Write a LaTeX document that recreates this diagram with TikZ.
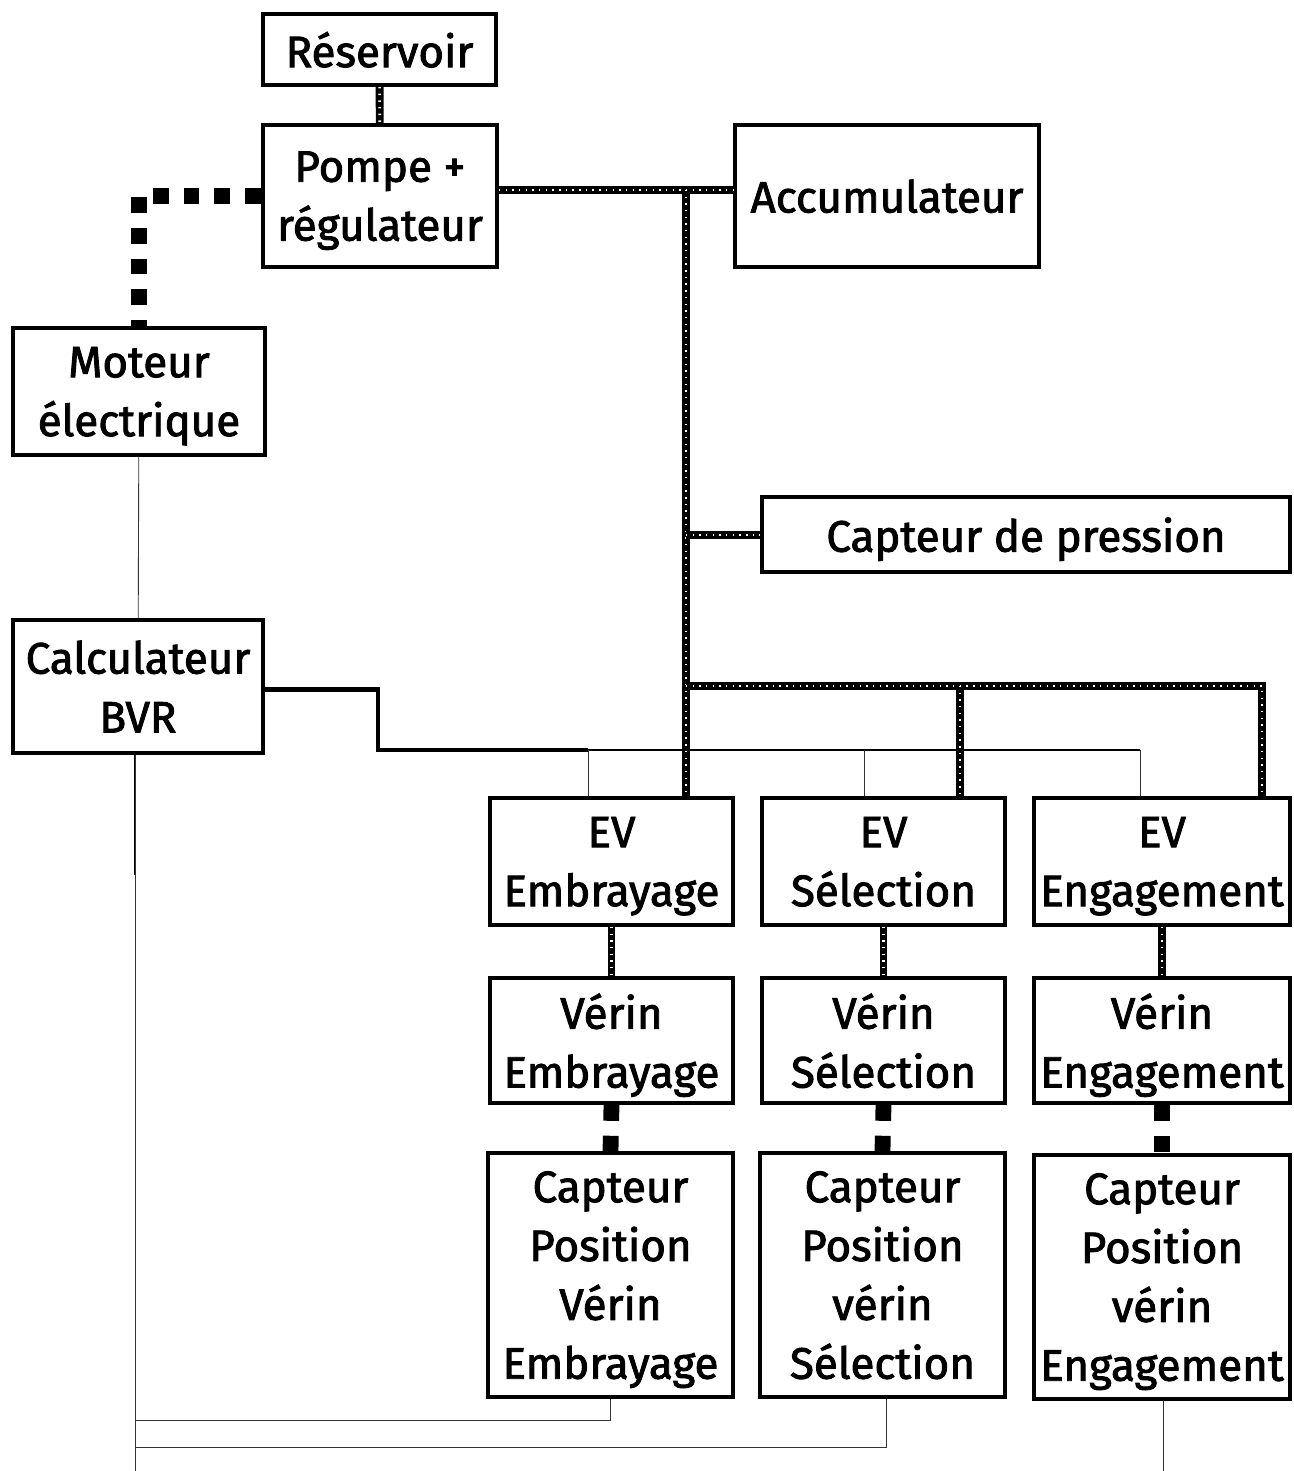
\documentclass[tikz,border=0pt]{standalone}
\usepackage{fontspec}
\setmainfont{Fira Sans}
\newfontfamily\blocfont{Fira Sans}[FakeBold=2]
\usetikzlibrary{positioning}
\tikzset{
  bloc/.style={draw=black, line width=2.3pt, align=center, inner sep=0pt,
    font=\blocfont\fontsize{25}{33.5}\selectfont, text depth=0pt,
    execute at begin node=\rule{0pt}{18.5pt}},
  hydro/.style={line width=4.5pt, draw=black,
    postaction={draw=white, line width=1.5pt, dash pattern=on 0.8pt off 3pt}},
  meca/.style={line width=9pt, draw=black, dash pattern=on 9pt off 8.5pt},
  sigfort/.style={line width=2.6pt, draw=black},
  sigmoy/.style={line width=1.2pt, draw=black},
  sigfin/.style={line width=0.5pt, draw=black!80}
}
\begin{document}
\begin{tikzpicture}[x=0.02cm, y=-0.02cm]
  \clip (0,0) rectangle (1294,1471);
  % --- blocs ---
  \node[bloc, minimum width=233*0.02cm, minimum height=71*0.02cm] (res) at (379.5,49.5) {Réservoir};
  \node[bloc, minimum width=234*0.02cm, minimum height=142*0.02cm] (pompe) at (380,196) {Pompe +\\régulateur};
  \node[bloc, minimum width=304*0.02cm, minimum height=142*0.02cm] (accu) at (887,196) {Accumulateur};
  \node[bloc, minimum width=252*0.02cm, minimum height=127*0.02cm] (moteur) at (139,391.5) {Moteur\\électrique};
  \node[bloc, minimum width=528*0.02cm, minimum height=75*0.02cm] (cpress) at (1026,534.5) {Capteur de pression};
  \node[bloc, minimum width=250*0.02cm, minimum height=133*0.02cm] (calc) at (138,686.5) {Calculateur\\BVR};
  % --- electrovannes ---
  \node[bloc, minimum width=243*0.02cm, minimum height=127*0.02cm] (ev1) at (611.5,861.5) {EV\\Embrayage};
  \node[bloc, minimum width=243*0.02cm, minimum height=127*0.02cm] (ev2) at (883.5,861.5) {EV\\Sélection};
  \node[bloc, minimum width=256*0.02cm, minimum height=127*0.02cm] (ev3) at (1162,861.5) {EV\\Engagement};
  % --- verins ---
  \node[bloc, minimum width=243*0.02cm, minimum height=125*0.02cm] (ve1) at (611.5,1040.5) {Vérin\\Embrayage};
  \node[bloc, minimum width=243*0.02cm, minimum height=125*0.02cm] (ve2) at (883.5,1040.5) {Vérin\\Sélection};
  \node[bloc, minimum width=256*0.02cm, minimum height=125*0.02cm] (ve3) at (1162,1040.5) {Vérin\\Engagement};
  % --- capteurs de position ---
  \node[bloc, minimum width=245*0.02cm, minimum height=244*0.02cm] (cp1) at (610.5,1275) {Capteur\\Position\\Vérin\\Embrayage};
  \node[bloc, minimum width=245*0.02cm, minimum height=244*0.02cm] (cp2) at (882.5,1275) {Capteur\\Position\\vérin\\Sélection};
  \node[bloc, minimum width=256*0.02cm, minimum height=244*0.02cm] (cp3) at (1162,1277) {Capteur\\Position\\vérin\\Engagement};
  % --- circuit hydraulique ---
  \coordinate (hA) at (686,190);
  \coordinate (hB) at (686,535);
  \coordinate (hC) at (686,686);
  \coordinate (hD) at (960,686);
  \coordinate (hE) at (1262,686);
  \draw[hydro] (res) -- (pompe);
  \draw[hydro] (pompe.east |- hA) -- (accu.west |- hA);
  \draw[hydro] (hA) -- (hA |- ev1.north);
  \draw[hydro] (hB) -- (cpress.west |- hB);
  \draw[hydro] (hC) -- (hE) -- (hE |- ev3.north);
  \draw[hydro] (hD) -- (hD |- ev2.north);
  \foreach \i in {1,2,3}
    \draw[hydro] (ev\i) -- (ve\i);
  % --- liaisons mecaniques ---
  \draw[meca] (pompe.west) -| (moteur.north);
  \foreach \i in {1,2,3}
    \draw[meca] (ve\i.south) -- (cp\i.north);
  % --- liaisons electriques ---
  \coordinate (eA) at (378,750);
  \coordinate (e1) at (588,750);
  \coordinate (e2) at (864,750);
  \coordinate (e3) at (1140,750);
  \draw[sigfin] (moteur) -- (calc);
  \draw[sigfort] ([yshift=-3*0.02cm]calc.east) -| (eA) -- (e1);
  \draw[sigmoy] (e1) -- (e3);
  \foreach \i in {1,2,3}
    \draw[sigfin] (e\i) -- (e\i |- ev\i.north);
  \coordinate (b1) at (610,1420);
  \coordinate (b2) at (886,1447);
  \coordinate (b3) at (1163,1480);
  \draw[sigmoy] ([xshift=-3*0.02cm]calc.south) -- ++(0,120);
  \draw[sigfin] ([xshift=-3*0.02cm]calc.south) |- (b1) -- (b1 |- cp1.south);
  \draw[sigfin] ([xshift=-3*0.02cm]calc.south) |- (b2) -- (b2 |- cp2.south);
  \draw[sigfin] ([xshift=-3*0.02cm]calc.south) |- (b3) -- (b3 |- cp3.south);
\end{tikzpicture}
\end{document}
